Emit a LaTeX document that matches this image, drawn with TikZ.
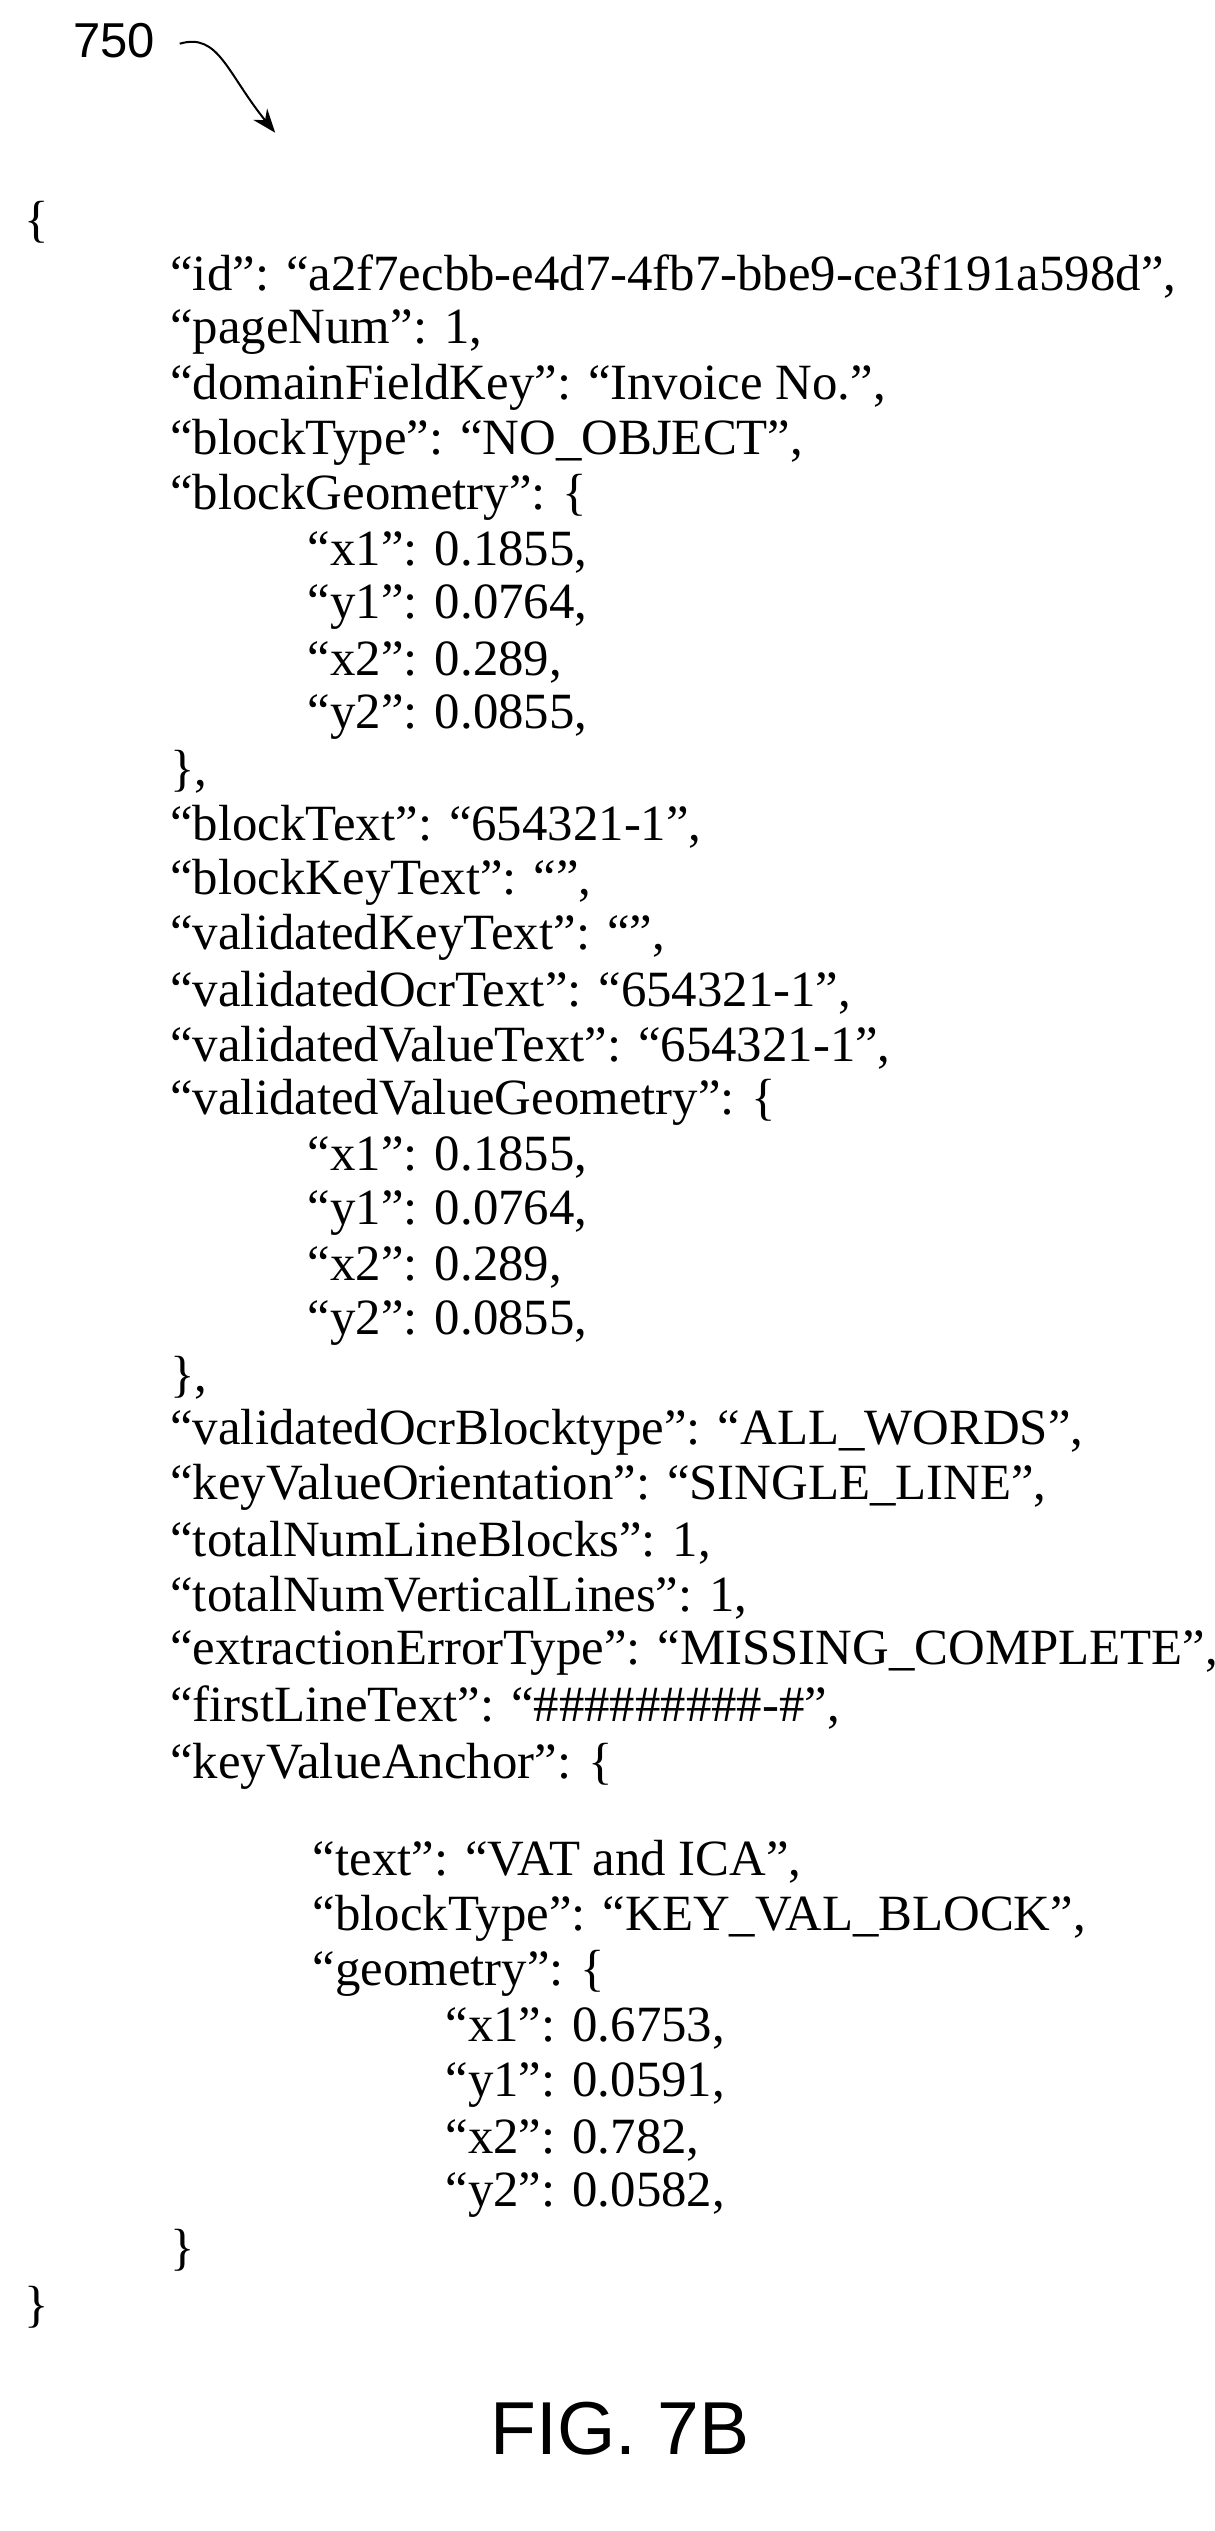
\documentclass[tikz,border=0pt]{standalone}
\usepackage{fontspec}
\setmainfont{Liberation Serif}
\newfontfamily\figfont{Liberation Sans}
\usetikzlibrary{arrows.meta}
\begin{document}
\begin{tikzpicture}[x=0.8093bp,y=-0.8093bp,
  t/.style={anchor=west,inner sep=0pt,font=\fontsize{25.4bp}{27bp}\selectfont}]
\useasboundingbox (0,0) rectangle (750,1563.4);
\node[anchor=west,inner sep=0pt,font=\figfont\fontsize{24.5bp}{26bp}\selectfont] (lbl) at (45,25) {750};
\coordinate (tip) at (170,82);
\draw[line width=1pt,-{Stealth[length=12pt,width=9pt]}] (lbl.east) ++(15,2) .. controls (135,20) and (140,45) .. (tip);
\node[t] (o1) at (15,137) {\{};
\node[t] (a1) at (105,171) {“id”: “a2f7ecbb-e4d7-4fb7-bbe9-ce3f191a598d”,};
\node[t] (a2) at (105,205) {“pageNum”: 1,};
\node[t] (a3) at (105,239) {“domainFieldKey”: “Invoice No.”,};
\node[t] (a4) at (105,273) {“blockType”: “NO\_OBJECT”,};
\node[t] (a5) at (105,307) {“blockGeometry”: \{};
\node[t] (b1) at (190,341) {“x1”: 0.1855,};
\node[t] (b2) at (190,375) {“y1”: 0.0764,};
\node[t] (b3) at (190,409) {“x2”: 0.289,};
\node[t] (b4) at (190,443) {“y2”: 0.0855,};
\node[t] (a6) at (105,477) {\},};
\node[t] (a7) at (105,511) {“blockText”: “654321-1”,};
\node[t] (a8) at (105,545) {“blockKeyText”: “”,};
\node[t] (a9) at (105,579) {“validatedKeyText”: “”,};
\node[t] (a10) at (105,613) {“validatedOcrText”: “654321-1”,};
\node[t] (a11) at (105,647) {“validatedValueText”: “654321-1”,};
\node[t] (a12) at (105,681) {“validatedValueGeometry”: \{};
\node[t] (c1) at (190,715) {“x1”: 0.1855,};
\node[t] (c2) at (190,749) {“y1”: 0.0764,};
\node[t] (c3) at (190,783) {“x2”: 0.289,};
\node[t] (c4) at (190,817) {“y2”: 0.0855,};
\node[t] (a13) at (105,851) {\},};
\node[t] (a14) at (105,885) {“validatedOcrBlocktype”: “ALL\_WORDS”,};
\node[t] (a15) at (105,919) {“keyValueOrientation”: “SINGLE\_LINE”,};
\node[t] (a16) at (105,953) {“totalNumLineBlocks”: 1,};
\node[t] (a17) at (105,987) {“totalNumVerticalLines”: 1,};
\node[t] (a18) at (105,1021) {“extractionErrorType”: “MISSING\_COMPLETE”,};
\node[t] (a19) at (105,1055) {“firstLineText”: “\#\#\#\#\#\#\#\#\#-\#”,};
\node[t] (a20) at (105,1091) {“keyValueAnchor”: \{};
\node[t] (d1) at (193,1150) {“text”: “VAT and ICA”,};
\node[t] (d2) at (193,1185) {“blockType”: “KEY\_VAL\_BLOCK”,};
\node[t] (d3) at (193,1219) {“geometry”: \{};
\node[t] (e1) at (275,1253) {“x1”: 0.6753,};
\node[t] (e2) at (275,1288) {“y1”: 0.0591,};
\node[t] (e3) at (275,1322) {“x2”: 0.782,};
\node[t] (e4) at (275,1356) {“y2”: 0.0582,};
\node[t] (d4) at (105,1390) {\}};
\node[t] (o2) at (15,1425) {\}};
\node[inner sep=0pt,font=\figfont\fontsize{37.5bp}{40bp}\selectfont] (fig) at (383,1500) {FIG. 7B};
\end{tikzpicture}
\end{document}
